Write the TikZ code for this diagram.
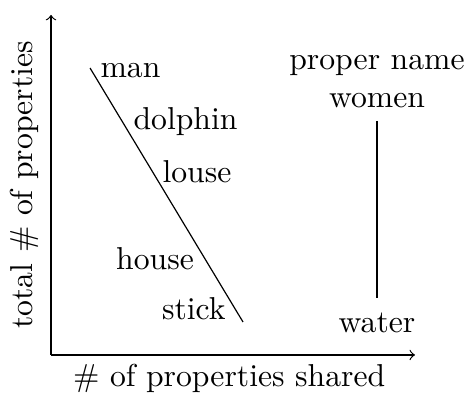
\documentclass[tikz,border=0pt]{standalone}
\usepackage{amsmath}
\usepackage{amssymb}
\usetikzlibrary{arrows.meta}

\begin{document}
\begin{tikzpicture}[>=to, font=\fontsize{10.6pt}{13pt}\selectfont, word/.style={inner sep=0pt, anchor=base west}]
                \useasboundingbox (-0.600,-0.517) rectangle (4.869,4.175);

                \coordinate (origin) at (0,0);
                \coordinate (ymax) at (0,4.0);
                \coordinate (xmax) at (4.281,0);
                \draw[->] (origin) -- (ymax);
                \draw[->] (origin) -- (xmax);

                \node[inner sep=0pt, anchor=base] (xlabel) at (2.095,-0.376) {\# of properties shared};
                \node[inner sep=0pt, anchor=base, rotate=90] (ylabel) at (-0.212,2.0) {total \# of properties};

                \foreach \name/\x/\y in {man/0.576/3.258, dolphin/0.964/2.646, louse/1.305/2.034, house/0.760/1.0, stick/1.300/0.412} {
                    \node[word] (\name) at (\x,\y) {\name};
                }

                \node[inner sep=0pt, anchor=base] (proper) at (3.834,3.352) {proper name};
                \node[inner sep=0pt, anchor=base] (women) at (3.834,2.905) {women};
                \node[inner sep=0pt, anchor=base] (water) at (3.834,0.259) {water};

                \coordinate (top) at (0.459,3.375);
                \coordinate (bottom) at (2.258,0.388);
                \draw (top) -- (bottom);
                \draw ([yshift=-4pt]women.south) -- ([yshift=5pt]water.north);
            \end{tikzpicture}
\end{document}
